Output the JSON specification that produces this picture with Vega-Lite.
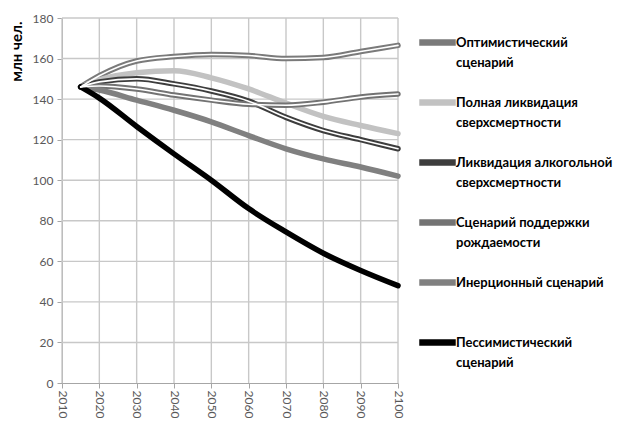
{
  "$schema": "https://vega.github.io/schema/vega-lite/v6.json",
  "autosize": {"type": "none"},
  "padding": {"left": 62, "top": 18, "right": 239, "bottom": 38},
  "width": 336,
  "height": 365,
  "background": "white",
  "config": {
    "font": "Lato",
    "view": {"stroke": null},
    "axis": {"domainColor": "#a6a6a6", "tickColor": "#a6a6a6", "labelColor": "#595959", "labelFontSize": 12, "labelFont": "Lato"}
  },
  "datasets": {
    "pop": [
      {"s": "Оптимистический сценарий", "year": 2015, "v": 146},
      {"s": "Оптимистический сценарий", "year": 2020, "v": 151.5},
      {"s": "Оптимистический сценарий", "year": 2030, "v": 158.8},
      {"s": "Оптимистический сценарий", "year": 2040, "v": 161},
      {"s": "Оптимистический сценарий", "year": 2050, "v": 162},
      {"s": "Оптимистический сценарий", "year": 2060, "v": 161.5},
      {"s": "Оптимистический сценарий", "year": 2070, "v": 160},
      {"s": "Оптимистический сценарий", "year": 2080, "v": 160.5},
      {"s": "Оптимистический сценарий", "year": 2090, "v": 163.5},
      {"s": "Оптимистический сценарий", "year": 2100, "v": 166.5},
      {"s": "Полная ликвидация сверхсмертности", "year": 2015, "v": 146},
      {"s": "Полная ликвидация сверхсмертности", "year": 2020, "v": 149.5},
      {"s": "Полная ликвидация сверхсмертности", "year": 2030, "v": 153},
      {"s": "Полная ликвидация сверхсмертности", "year": 2040, "v": 154},
      {"s": "Полная ликвидация сверхсмертности", "year": 2050, "v": 150.5},
      {"s": "Полная ликвидация сверхсмертности", "year": 2060, "v": 145},
      {"s": "Полная ликвидация сверхсмертности", "year": 2070, "v": 138},
      {"s": "Полная ликвидация сверхсмертности", "year": 2080, "v": 131.5},
      {"s": "Полная ликвидация сверхсмертности", "year": 2090, "v": 127},
      {"s": "Полная ликвидация сверхсмертности", "year": 2100, "v": 123},
      {"s": "Ликвидация алкогольной сверхсмертности", "year": 2015, "v": 146},
      {"s": "Ликвидация алкогольной сверхсмертности", "year": 2020, "v": 148.5},
      {"s": "Ликвидация алкогольной сверхсмертности", "year": 2030, "v": 150},
      {"s": "Ликвидация алкогольной сверхсмертности", "year": 2040, "v": 147.5},
      {"s": "Ликвидация алкогольной сверхсмертности", "year": 2050, "v": 144},
      {"s": "Ликвидация алкогольной сверхсмертности", "year": 2060, "v": 139},
      {"s": "Ликвидация алкогольной сверхсмертности", "year": 2070, "v": 131},
      {"s": "Ликвидация алкогольной сверхсмертности", "year": 2080, "v": 124.5},
      {"s": "Ликвидация алкогольной сверхсмертности", "year": 2090, "v": 120},
      {"s": "Ликвидация алкогольной сверхсмертности", "year": 2100, "v": 115.5},
      {"s": "Сценарий поддержки рождаемости", "year": 2015, "v": 146},
      {"s": "Сценарий поддержки рождаемости", "year": 2020, "v": 146.5},
      {"s": "Сценарий поддержки рождаемости", "year": 2030, "v": 145},
      {"s": "Сценарий поддержки рождаемости", "year": 2040, "v": 142},
      {"s": "Сценарий поддержки рождаемости", "year": 2050, "v": 139.5},
      {"s": "Сценарий поддержки рождаемости", "year": 2060, "v": 137.5},
      {"s": "Сценарий поддержки рождаемости", "year": 2070, "v": 137},
      {"s": "Сценарий поддержки рождаемости", "year": 2080, "v": 138.5},
      {"s": "Сценарий поддержки рождаемости", "year": 2090, "v": 141},
      {"s": "Сценарий поддержки рождаемости", "year": 2100, "v": 142.5},
      {"s": "Инерционный сценарий", "year": 2015, "v": 146},
      {"s": "Инерционный сценарий", "year": 2020, "v": 144.5},
      {"s": "Инерционный сценарий", "year": 2030, "v": 139.5},
      {"s": "Инерционный сценарий", "year": 2040, "v": 134.5},
      {"s": "Инерционный сценарий", "year": 2050, "v": 128.8},
      {"s": "Инерционный сценарий", "year": 2060, "v": 122},
      {"s": "Инерционный сценарий", "year": 2070, "v": 115.5},
      {"s": "Инерционный сценарий", "year": 2080, "v": 110.5},
      {"s": "Инерционный сценарий", "year": 2090, "v": 106.5},
      {"s": "Инерционный сценарий", "year": 2100, "v": 102},
      {"s": "Пессимистический сценарий", "year": 2015, "v": 146},
      {"s": "Пессимистический сценарий", "year": 2020, "v": 140.5},
      {"s": "Пессимистический сценарий", "year": 2030, "v": 126.5},
      {"s": "Пессимистический сценарий", "year": 2040, "v": 113},
      {"s": "Пессимистический сценарий", "year": 2050, "v": 100},
      {"s": "Пессимистический сценарий", "year": 2060, "v": 86},
      {"s": "Пессимистический сценарий", "year": 2070, "v": 74.5},
      {"s": "Пессимистический сценарий", "year": 2080, "v": 64},
      {"s": "Пессимистический сценарий", "year": 2090, "v": 55.5},
      {"s": "Пессимистический сценарий", "year": 2100, "v": 48}
    ],
    "xgrid": [{"year": 2010}, {"year": 2020}, {"year": 2030}, {"year": 2040}, {"year": 2050}, {"year": 2060}, {"year": 2070}, {"year": 2080}, {"year": 2090}, {"year": 2100}],
    "ygrid": [{"v": 20}, {"v": 40}, {"v": 60}, {"v": 80}, {"v": 100}, {"v": 120}, {"v": 140}, {"v": 160}, {"v": 180}]
  },
  "layer": [
    {
      "data": {"name": "xgrid"},
      "mark": {"type": "rule", "color": "#c8c8c8", "strokeWidth": 1.4},
      "encoding": {
        "x": {
          "field": "year",
          "type": "quantitative",
          "scale": {"domain": [2010, 2100], "nice": false, "zero": false},
          "axis": {"title": null, "grid": false, "values": [2010, 2020, 2030, 2040, 2050, 2060, 2070, 2080, 2090, 2100], "format": "d", "labelAngle": 90, "labelFlush": false, "labelOverlap": false, "tickSize": 5}
        }
      }
    },
    {
      "data": {"name": "ygrid"},
      "mark": {"type": "rule", "color": "#c8c8c8", "strokeWidth": 1.4},
      "encoding": {
        "y": {
          "field": "v",
          "type": "quantitative",
          "scale": {"domain": [0, 180], "nice": false},
          "axis": {"title": "млн чел.", "grid": false, "titleFont": "Lato", "titleFontSize": 15, "titleFontWeight": "bold", "titleColor": "#000000", "titleAnchor": "end", "titlePadding": 8, "titleY": 3, "values": [0, 20, 40, 60, 80, 100, 120, 140, 160, 180], "tickSize": 5, "labelPadding": 4}
        }
      }
    },
    {
      "data": {"name": "pop"},
      "mark": {"type": "line", "interpolate": "monotone", "strokeCap": "round", "strokeJoin": "round"},
      "encoding": {
        "x": {
          "field": "year",
          "type": "quantitative",
          "scale": {"domain": [2010, 2100], "nice": false, "zero": false},
          "axis": {"title": null, "grid": false, "values": [2010, 2020, 2030, 2040, 2050, 2060, 2070, 2080, 2090, 2100], "format": "d", "labelAngle": 90, "labelFlush": false, "labelOverlap": false, "tickSize": 5}
        },
        "y": {
          "field": "v",
          "type": "quantitative",
          "scale": {"domain": [0, 180], "nice": false},
          "axis": {"title": "млн чел.", "grid": false, "titleFont": "Lato", "titleFontSize": 15, "titleFontWeight": "bold", "titleColor": "#000000", "titleAnchor": "end", "titlePadding": 8, "titleY": 3, "values": [0, 20, 40, 60, 80, 100, 120, 140, 160, 180], "tickSize": 5, "labelPadding": 4}
        },
        "color": {
          "field": "s",
          "type": "nominal",
          "scale": {
            "domain": ["Оптимистический сценарий", "Полная ликвидация сверхсмертности", "Ликвидация алкогольной сверхсмертности", "Сценарий поддержки рождаемости", "Инерционный сценарий", "Пессимистический сценарий"],
            "range": ["#7a7a7a", "#c2c2c2", "#3d3d3d", "#737373", "#808080", "#000000"]
          },
          "legend": {
            "title": null,
            "orient": "none",
            "legendX": 357,
            "legendY": 6,
            "gridAlign": "all",
            "rowPadding": 14,
            "symbolType": "M-1,-0.03H1V0.03H-1Z",
            "symbolSize": 961,
            "labelFont": "Lato",
            "labelFontSize": 13,
            "labelFontWeight": "bold",
            "labelColor": "#000000",
            "labelOffset": 0,
            "labelLimit": 300,
            "labelBaseline": "middle",
            "labelExpr": "datum.label == 'Инерционный сценарий' ? datum.label : [substring(datum.label, 0, lastindexof(datum.label, ' ')), substring(datum.label, lastindexof(datum.label, ' ') + 1)]",
            "encode": {
              "labels": {"update": {"lineHeight": {"value": 20}}}
            }
          }
        },
        "strokeWidth": {
          "field": "s",
          "type": "nominal",
          "scale": {
            "domain": ["Оптимистический сценарий", "Полная ликвидация сверхсмертности", "Ликвидация алкогольной сверхсмертности", "Сценарий поддержки рождаемости", "Инерционный сценарий", "Пессимистический сценарий"],
            "range": [5.5, 5.5, 5.5, 5.5, 6.5, 7]
          },
          "legend": null
        }
      }
    },
    {
      "data": {"name": "pop"},
      "transform": [{"filter": {"field": "s", "oneOf": ["Оптимистический сценарий", "Ликвидация алкогольной сверхсмертности", "Сценарий поддержки рождаемости"]}}],
      "mark": {"type": "line", "interpolate": "monotone", "color": "#ffffff", "strokeWidth": 1.6, "strokeCap": "round"},
      "encoding": {
        "x": {
          "field": "year",
          "type": "quantitative",
          "scale": {"domain": [2010, 2100], "nice": false, "zero": false},
          "axis": {"title": null, "grid": false, "values": [2010, 2020, 2030, 2040, 2050, 2060, 2070, 2080, 2090, 2100], "format": "d", "labelAngle": 90, "labelFlush": false, "labelOverlap": false, "tickSize": 5}
        },
        "y": {
          "field": "v",
          "type": "quantitative",
          "scale": {"domain": [0, 180], "nice": false},
          "axis": {"title": "млн чел.", "grid": false, "titleFont": "Lato", "titleFontSize": 15, "titleFontWeight": "bold", "titleColor": "#000000", "titleAnchor": "end", "titlePadding": 8, "titleY": 3, "values": [0, 20, 40, 60, 80, 100, 120, 140, 160, 180], "tickSize": 5, "labelPadding": 4}
        },
        "detail": {"field": "s", "type": "nominal"}
      }
    }
  ]
}
